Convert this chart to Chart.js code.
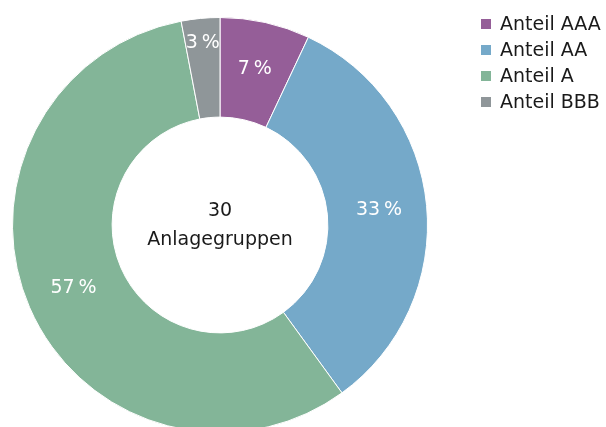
<!DOCTYPE html>
<html>
<head>
<meta charset="utf-8">
<script src="https://cdn.jsdelivr.net/npm/chart.js@4.4.1/dist/chart.umd.min.js"></script>
<style>
  html, body { margin: 0; padding: 0; background: #fff; overflow: hidden; }
  #wrap { position: relative; width: 606px; height: 427px; overflow: hidden; }
  #box { position: absolute; left: 0; top: 0; width: 606px; height: 450px; }
  #legend { position: absolute; left: 481px; top: 10px; margin: 0; padding: 0; list-style: none;
            font-family: "DejaVu Sans", sans-serif; font-size: 19px; color: #1a1a1a; }
  #legend li { height: 26px; line-height: 26px; white-space: nowrap; }
  #legend .sw { display: inline-block; width: 10px; height: 10px; margin-right: 9px; vertical-align: 1px; }
</style>
</head>
<body>
<div id="wrap">
  <div id="box"><canvas id="chart"></canvas></div>
  <ul id="legend"></ul>
</div>
<script>
// ─── Data ───────────────────────────────────────────────────────────────
const labels = ["Anteil AAA", "Anteil AA", "Anteil A", "Anteil BBB"];
const shares = [7, 33, 57, 3];          // percent
const colors = ["#955e98", "#75a9c9", "#83b598", "#8f9699"];
const centerLines = ["30", "Anlagegruppen"];

const FONT = '"DejaVu Sans", sans-serif';

// ─── HTML legend ────────────────────────────────────────────────────────
document.getElementById("legend").innerHTML = labels
  .map((l, i) => `<li><span class="sw" style="background:${colors[i]}"></span>${l}</li>`)
  .join("");

// ─── Plugins: slice labels + centre text ────────────────────────────────
const sliceLabels = {
  id: "sliceLabels",
  afterDatasetsDraw(chart) {
    const { ctx } = chart;
    const meta = chart.getDatasetMeta(0);
    ctx.save();
    ctx.fillStyle = "#ffffff";
    ctx.font = "19px " + FONT;
    ctx.textAlign = "center";
    ctx.textBaseline = "middle";
    meta.data.forEach((arc, i) => {
      const p = arc.getProps(["x", "y", "startAngle", "endAngle", "innerRadius", "outerRadius"], true);
      const mid = (p.startAngle + p.endAngle) / 2;
      // thin slices: push the label outward so it fits
      const frac = (p.endAngle - p.startAngle) < 0.3 ? 0.75 : 0.52;
      const r = p.innerRadius + (p.outerRadius - p.innerRadius) * frac;
      ctx.fillText(shares[i] + "\u202F%", p.x + Math.cos(mid) * r, p.y + Math.sin(mid) * r);
    });
    ctx.restore();
  },
};

const centerText = {
  id: "centerText",
  afterDraw(chart) {
    const { ctx } = chart;
    const arc = chart.getDatasetMeta(0).data[0];
    ctx.save();
    ctx.fillStyle = "#1a1a1a";
    ctx.font = "19px " + FONT;
    ctx.textAlign = "center";
    ctx.textBaseline = "middle";
    ctx.fillText(centerLines[0], arc.x, arc.y - 14);
    ctx.fillText(centerLines[1], arc.x, arc.y + 15);
    ctx.restore();
  },
};

// ─── Chart ──────────────────────────────────────────────────────────────
new Chart(document.getElementById("chart"), {
  type: "doughnut",
  data: {
    labels,
    datasets: [{
      data: shares,
      backgroundColor: colors,
      borderColor: "#ffffff",
      borderWidth: 1,
    }],
  },
  options: {
    responsive: true,
    maintainAspectRatio: false,
    animation: false,
    cutout: "52%",
    layout: { padding: { left: 12, top: 17, right: 178, bottom: 17 } },
    plugins: {
      legend: { display: false },
      tooltip: { enabled: false },
    },
  },
  plugins: [sliceLabels, centerText],
});
</script>
</body>
</html>
